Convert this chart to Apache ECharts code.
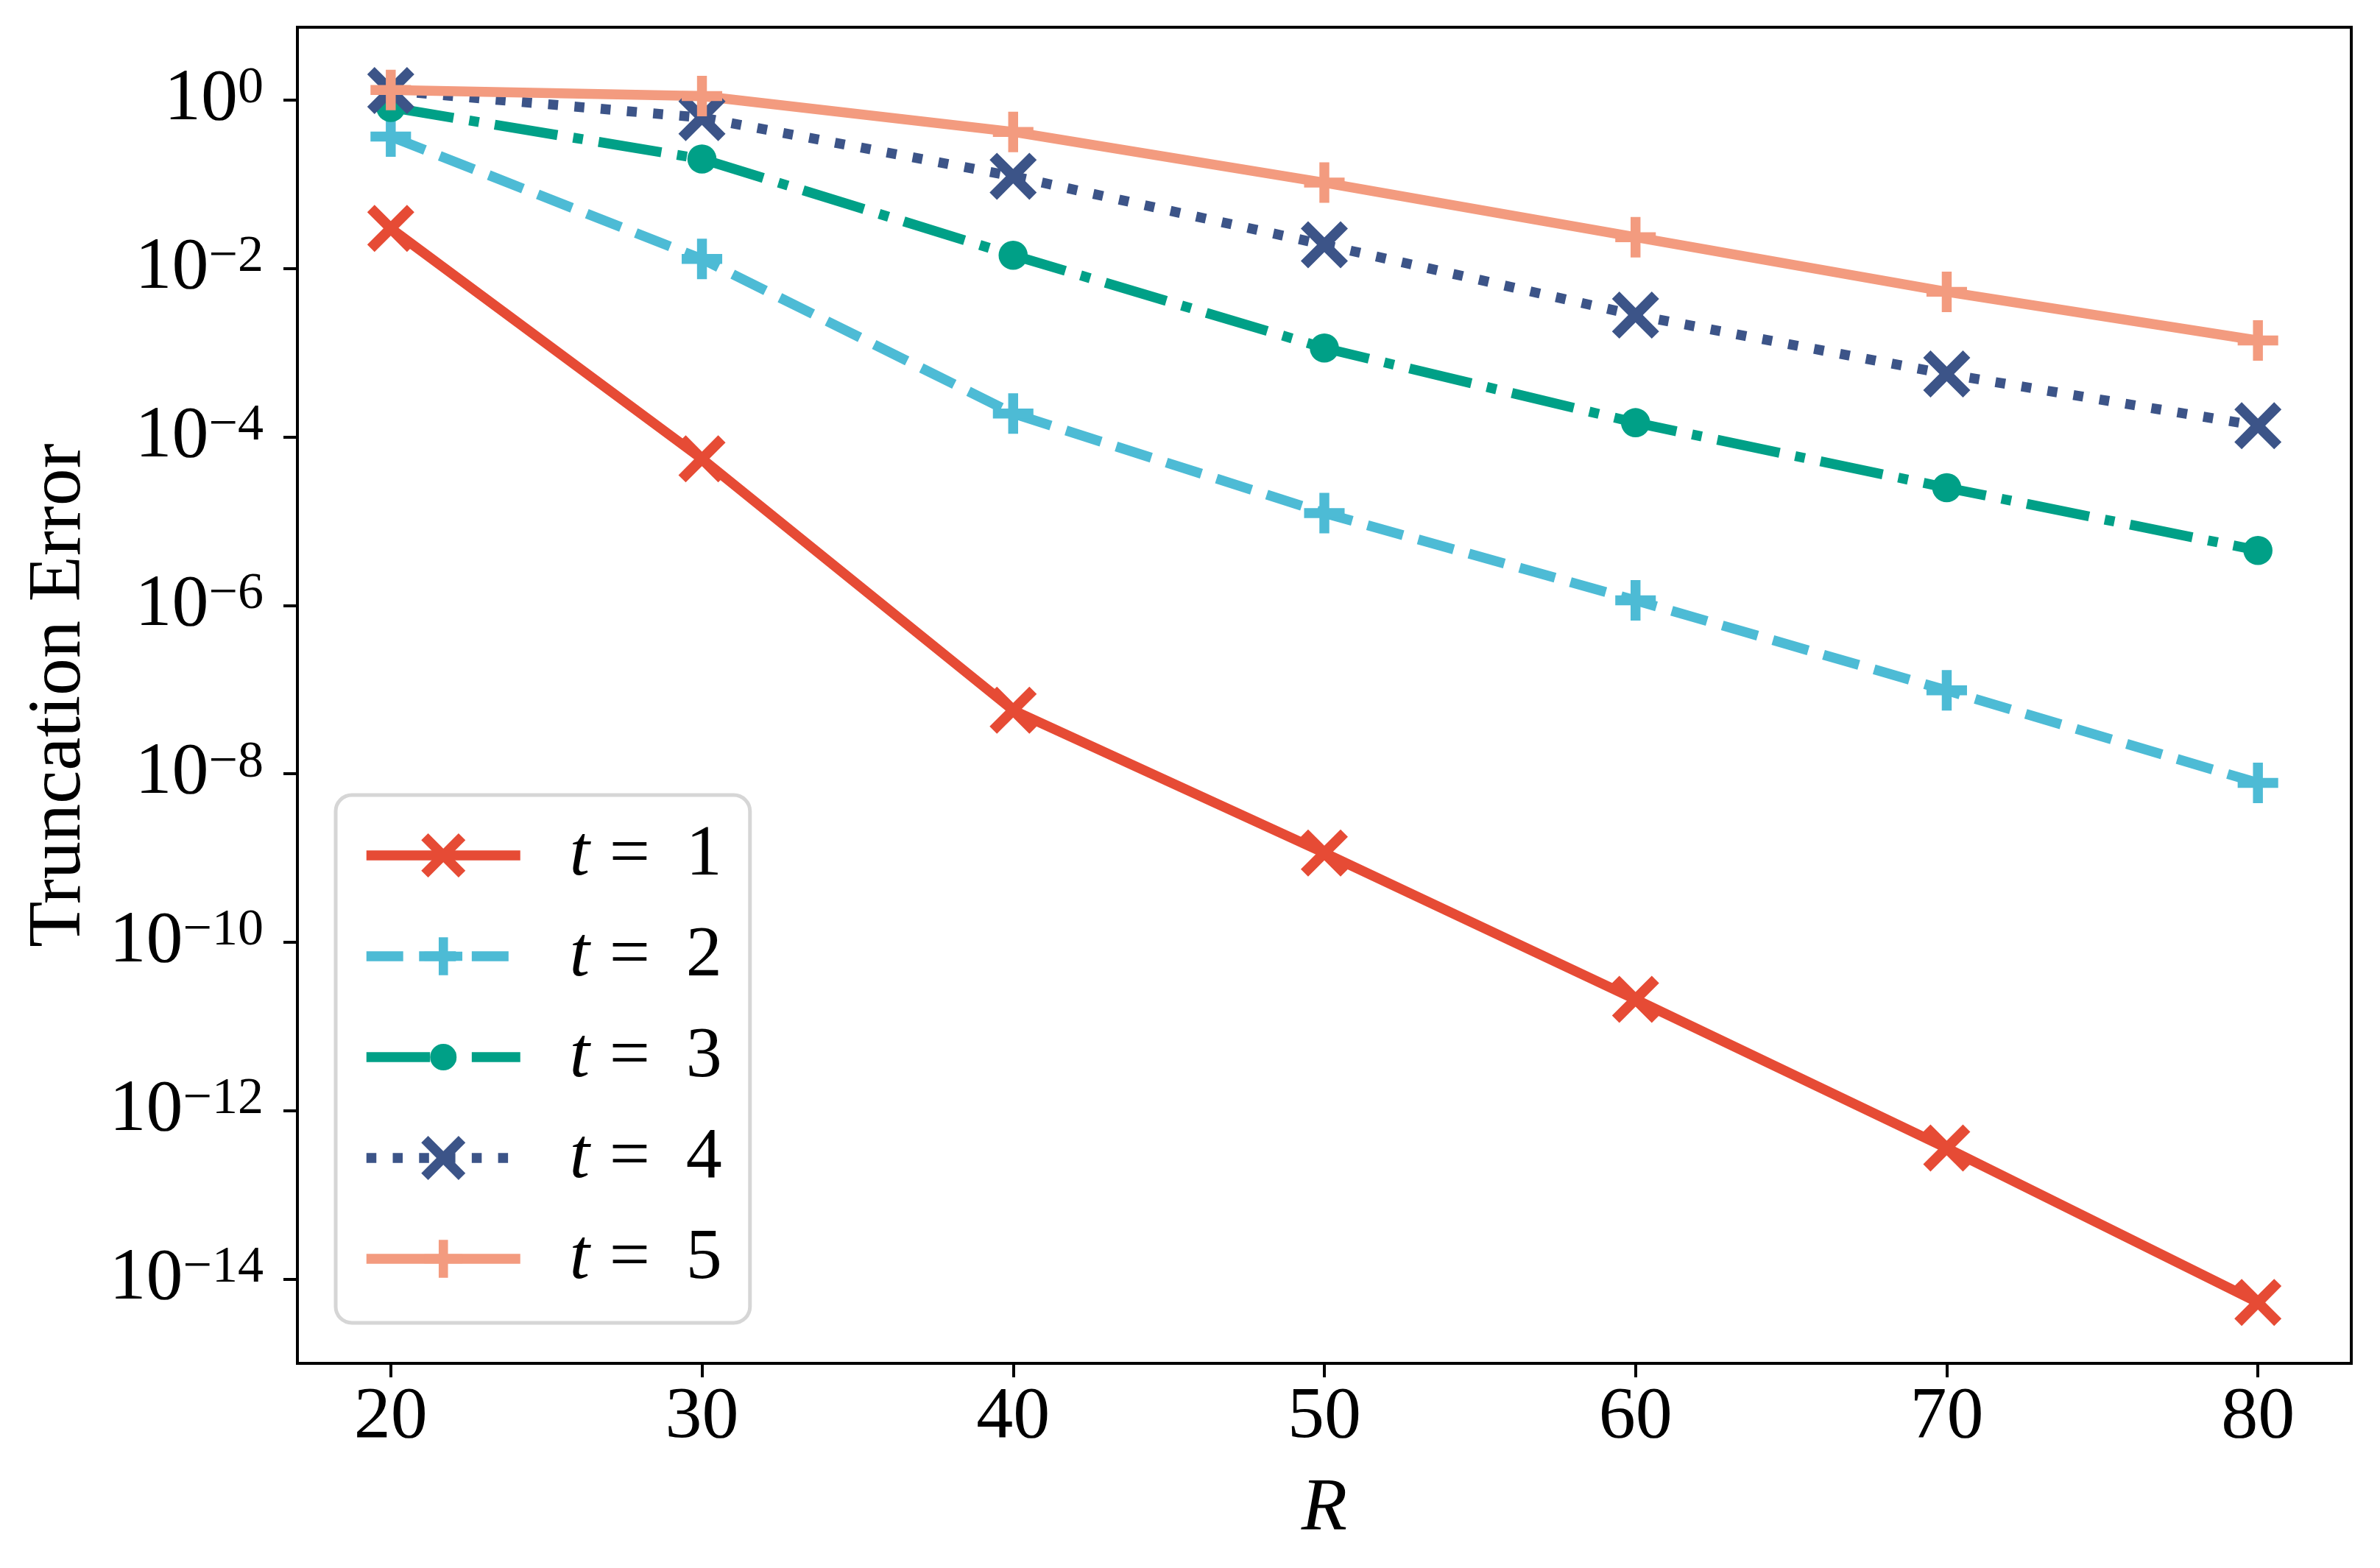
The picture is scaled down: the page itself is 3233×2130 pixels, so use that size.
<!DOCTYPE html>
<html>
<head>
<meta charset="utf-8">
<script src="https://cdn.jsdelivr.net/npm/echarts@6.0.0/dist/echarts.min.js"></script>
<style>
    html, body { margin: 0; padding: 0; background: #fff; }
    #chart { width: 3233px; height: 2130px; }
</style>
</head>
<body>
<div id="chart"></div>
<script>
// values
const R = [20, 30, 40, 50, 60, 70, 80];
const xTicks = [20, 30, 40, 50, 60, 70, 80];
const yTicks = [1e-14, 1e-12, 1e-10, 1e-8, 1e-6, 1e-4, 1e-2, 1];

const t1 = [3.0e-2, 5.5e-5, 5.7e-8, 1.15e-9, 2.1e-11, 3.6e-13, 5.3e-15];
const t2 = [0.37, 1.3e-2, 1.9e-4, 1.25e-5, 1.15e-6, 9.8e-8, 7.8e-9];
const t3 = [0.82, 0.20, 1.44e-2, 1.14e-3, 1.48e-4, 2.5e-5, 4.5e-6];
const t4 = [1.30, 0.62, 0.125, 1.92e-2, 2.8e-3, 5.6e-4, 1.36e-4];
const t5 = [1.32, 1.12, 0.42, 0.105, 2.36e-2, 5.3e-3, 1.4e-3];

const names = ['t = 1', 't = 2', 't = 3', 't = 4', 't = 5'];

// marker shapes in a 100x100 box, tiny corner triangles keep the box size
const PAD = 'M0 0L0.01 0L0 0.01Z M100 100L99.99 100L100 99.99Z ';
const X_PATH = 'path://M15.56 0L50 34.44L84.44 0L100 15.56L65.56 50L100 84.44L84.44 100L50 65.56L15.56 100L0 84.44L34.44 50L0 15.56Z';
const PLUS_PATH = 'path://' + PAD + 'M39.5 7L60.5 7L60.5 39.5L93 39.5L93 60.5L60.5 60.5L60.5 93L39.5 93L39.5 60.5L7 60.5L7 39.5L39.5 39.5Z';
const DOT_PATH = 'path://' + PAD + 'M20 50A30 30 0 1 0 80 50A30 30 0 1 0 20 50Z';

const LW = 13.5;
const styles = [
    { color: '#E64B35', dash: 'solid', symbol: X_PATH, size: 64 },
    { color: '#4DBBD5', dash: [3.7 * LW, 1.6 * LW], symbol: PLUS_PATH, size: 64 },
    { color: '#00A087', dash: [6.4 * LW, 1.6 * LW, 1 * LW, 1.6 * LW], symbol: DOT_PATH, size: 66 },
    { color: '#3C5488', dash: [1 * LW, 1.65 * LW], symbol: X_PATH, size: 64 },
    { color: '#F39B7F', dash: 'solid', symbol: PLUS_PATH, size: 64 }
];
const values = [t1, t2, t3, t4, t5];

const FONT = 'Liberation Serif';

function pairs(ys) {
    return R.map((r, i) => [r, ys[i]]);
}

function powLabel(v) {
    const e = Math.round(Math.log10(v));
    const s = e < 0 ? '\u2212' + (-e) : String(e);
    return '{b|10}{s|' + s + '}';
}

const chart = echarts.init(document.getElementById('chart'), null, { renderer: 'canvas' });

chart.setOption({
    animation: false,
    backgroundColor: '#fff',
    grid: {
        left: 404,
        right: 39,
        top: 37,
        bottom: 278,
        show: true,
        borderColor: '#000',
        borderWidth: 4,
        backgroundColor: 'transparent'
    },
    xAxis: {
        type: 'value',
        min: 17,
        max: 83,
        name: 'R',
        nameLocation: 'middle',
        nameGap: 148,
        nameTextStyle: { fontFamily: FONT, fontStyle: 'italic', fontSize: 102, color: '#000' },
        axisLine: { show: true, onZero: false, lineStyle: { color: '#000', width: 4 } },
        axisTick: { show: true, length: 19, lineStyle: { color: '#000', width: 4 }, customValues: xTicks },
        axisLabel: { fontFamily: FONT, fontSize: 100, color: '#000', margin: 24, customValues: xTicks },
        splitLine: { show: false }
    },
    yAxis: {
        type: 'log',
        logBase: 10,
        min: 1e-15,
        max: Math.pow(10, 0.866),
        name: 'Truncation Error',
        nameLocation: 'middle',
        nameGap: 272,
        nameTextStyle: { fontFamily: FONT, fontSize: 102, color: '#000' },
        axisLine: { show: true, onZero: false, lineStyle: { color: '#000', width: 4 } },
        axisTick: { show: true, length: 19, lineStyle: { color: '#000', width: 4 }, customValues: yTicks },
        axisLabel: {
            margin: 46,
            customValues: yTicks,
            formatter: powLabel,
            rich: {
                b: { fontFamily: FONT, fontSize: 100, lineHeight: 100, color: '#000', padding: [12, 0, 12, 0], verticalAlign: 'middle' },
                s: { fontFamily: FONT, fontSize: 70, lineHeight: 70, color: '#000', verticalAlign: 'top' }
            }
        },
        splitLine: { show: false }
    },
    legend: {
        orient: 'vertical',
        left: 456,
        top: 1080,
        padding: [33, 38, 38, 35],
        itemWidth: 209,
        itemHeight: 75,
        itemGap: 39,
        backgroundColor: 'rgba(255,255,255,0.8)',
        borderColor: '#d6d6d6',
        borderWidth: 5,
        borderRadius: 22,
        lineStyle: { width: LW },
        data: names,
        formatter: function (name) {
            return '{sp|}{i|t}{e|=}{v|' + name.slice(-1) + '}';
        },
        textStyle: {
            rich: {
                sp: { width: 62 },
                i: { fontFamily: FONT, fontStyle: 'italic', fontSize: 98, color: '#000', width: 54 },
                e: { fontFamily: FONT, fontSize: 98, color: '#000', width: 104 },
                v: { fontFamily: FONT, fontSize: 98, color: '#000' }
            }
        }
    },
    series: values.map((vals, i) => ({
        name: names[i],
        type: 'line',
        data: pairs(vals),
        symbol: styles[i].symbol,
        symbolSize: styles[i].size,
        showSymbol: true,
        lineStyle: { color: styles[i].color, width: LW, type: styles[i].dash, cap: 'butt' },
        itemStyle: { color: styles[i].color, borderWidth: 0 },
        emphasis: { disabled: true }
    }))
});
</script>
</body>
</html>
